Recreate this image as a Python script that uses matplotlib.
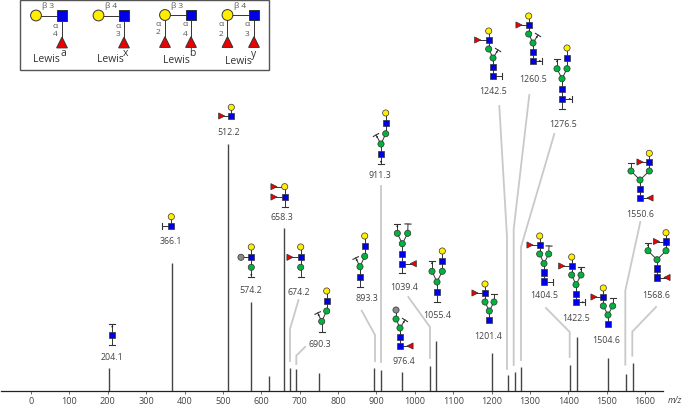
import matplotlib
matplotlib.use("Agg")
import matplotlib.pyplot as plt
from matplotlib.patches import Circle, Rectangle, Polygon

plt.rcParams['font.family'] = ['Open Sans', 'DejaVu Sans']

# ---- data ----
mz = [204.1, 366.1, 512.2, 574.2, 620.0, 658.3, 674.2, 690.3, 750.0, 893.3, 911.3,
      967.8, 1040.0, 1055.4, 1201.4, 1242.5, 1260.5, 1276.5, 1404.5, 1422.5, 1504.6,
      1550.6, 1568.6]
intensity = [9.3, 52.0, 100.0, 36.0, 6.1, 66.0, 9.3, 8.9, 7.3, 9.3, 8.5,
             7.7, 10.1, 20.2, 15.4, 6.5, 7.7, 9.7, 10.5, 21.9, 13.4, 6.9, 11.3]
x_ticks = list(range(0, 1601, 100))

ion_labels = ['204.1', '366.1', '512.2', '574.2', '658.3', '674.2', '690.3', '893.3',
              '911.3', '976.4', '1039.4', '1055.4', '1201.4', '1242.5', '1260.5',
              '1276.5', '1404.5', '1422.5', '1504.6', '1550.6', '1568.6']

# ---- layout (pixels, annotation layer) ----
label_xy = [(112, 358), (171, 242), (229, 133), (251, 291), (282, 218), (299, 293),
            (320, 344.5), (367, 299), (380, 176), (404, 362), (404, 288), (437, 316),
            (488, 337), (493, 92), (533, 79), (563, 124.5), (544, 295.5), (576, 319),
            (606, 341), (640.5, 214.5), (656.5, 296)]

leaders = [
    [(290, 362), (290, 330), (298.5, 301)],
    [(296.3, 365), (296.3, 356.7), (305, 348)],
    [(375, 362), (375, 336), (361.7, 311.7)],
    [(380.7, 363), (380.7, 187)],
    [(430, 359), (430, 328), (408.3, 298)],
    [(507, 370), (507, 238), (499.3, 107)],
    [(513.7, 366), (513.7, 230), (529.3, 96)],
    [(521, 361), (521, 248), (554.3, 135)],
    [(569.7, 358), (569.7, 333), (546, 309)],
    [(625.3, 365.7), (625.3, 291.7), (640.3, 223)],
    [(632.3, 356.7), (632.3, 332.7), (656, 308)],
]

# nodes: kind, x, y, parent index
# Y yellow circle, G green circle, S grey circle, B blue square,
# R red triangle pointing right, L red triangle pointing left, T cap, D dotted cap
glycans = [
    [('B', 112.3, 335.7, None), ('D', 112.3, 325.3, 0), ('T', 112.3, 346, 0)],
    [('Y', 171.3, 217.7, None), ('B', 171.3, 226.7, 0), ('T', 162.5, 226.7, 1)],
    [('Y', 231.3, 108.3, None), ('B', 231.3, 117, 0), ('R', 221.7, 117, 1)],
    [('Y', 251.3, 248, None), ('B', 251.3, 258.3, 0), ('S', 241, 258.3, 1),
     ('G', 251.3, 268.3, 1), ('D', 251.3, 278, 3)],
    [('Y', 284.7, 187.7, None), ('R', 274, 187.7, 0), ('B', 284.7, 198, 0),
     ('R', 274, 198, 2), ('T', 284.7, 208, 2)],
    [('Y', 300.7, 248, None), ('B', 300.7, 258.3, 0), ('R', 290, 258.3, 1),
     ('G', 300.7, 268.3, 1), ('T', 300.7, 278, 3)],
    [('Y', 326.7, 292, None), ('B', 326.7, 302, 0), ('G', 326.7, 312, 1),
     ('G', 321.7, 322.4, 2), ('D', 317.7, 314, 3), ('T', 321.7, 332.7, 3)],
    [('Y', 364.7, 237, None), ('B', 364.7, 247, 0), ('G', 364.7, 257.3, 1),
     ('G', 360, 267.7, 2), ('D', 355.7, 259, 3), ('B', 360, 278, 3), ('T', 360, 288, 5)],
    [('Y', 385.7, 114, None), ('B', 385.7, 124.3, 0), ('G', 385.7, 134.7, 1),
     ('G', 381, 145, 2), ('D', 376, 136, 3), ('B', 381, 155, 3), ('D', 381, 165, 5)],
    [('S', 396, 311, None), ('G', 396, 320, 0), ('G', 400, 329, 1), ('D', 405, 321, 2),
     ('B', 400, 338, 2), ('B', 400, 347, 4), ('L', 410, 347, 5)],
    [('D', 397.3, 225, 1), ('G', 397.3, 234.3, 4), ('T', 408, 225, 3), ('G', 407.7, 234.3, 4),
     ('G', 402.3, 244.7, None), ('B', 402.3, 254.7, 4), ('B', 402.3, 264.7, 5),
     ('L', 413.3, 264.7, 6), ('T', 402.3, 274, 6)],
    [('Y', 442.3, 252, None), ('B', 442.3, 262, 0), ('G', 442.3, 272.3, 1),
     ('G', 432, 272.3, 5), ('D', 432, 262, 3), ('G', 437, 283, 2), ('B', 437, 293, 5),
     ('T', 437, 302.5, 6)],
    [('Y', 485, 285, None), ('B', 485, 294, 0), ('R', 475, 294, 1), ('G', 485, 303, 1),
     ('G', 494, 303, 6), ('T', 494, 295, 4), ('G', 489.3, 312, 3), ('B', 489.3, 321, 6)],
    [('Y', 488.7, 32, None), ('B', 488.7, 41, 0), ('R', 477.7, 41, 1), ('G', 488.7, 50, 1),
     ('D', 498, 51, 5), ('G', 493, 59, 3), ('B', 493, 68, 5), ('B', 493, 77, 6), ('T', 502, 77, 7)],
    [('Y', 528.7, 17, None), ('B', 528.7, 26, 0), ('R', 519, 26, 1), ('G', 528.7, 35, 1),
     ('D', 538, 36, 5), ('G', 533, 44, 3), ('B', 533, 53, 5), ('B', 533, 62, 6), ('D', 542, 62, 7)],
    [('Y', 567, 49, None), ('B', 567, 59, 0), ('G', 567, 69.7, 1), ('D', 557, 60, 4),
     ('G', 557, 69.7, 5), ('G', 562, 79.7, 2), ('B', 562, 90, 5), ('B', 562, 100, 6),
     ('D', 572, 100, 7), ('T', 562, 110, 7)],
    [('Y', 539.7, 237, None), ('B', 539.7, 246, 0), ('R', 530, 246, 1), ('G', 539.7, 255, 1),
     ('T', 549, 247, 5), ('G', 548.7, 255, 6), ('G', 544, 264.5, 3), ('B', 544, 273.5, 6),
     ('B', 544, 282.5, 7), ('T', 553, 282.5, 8)],
    [('Y', 571.7, 258, None), ('B', 571.7, 267, 0), ('R', 561.7, 267, 1), ('G', 571.7, 276, 1),
     ('D', 581, 268, 5), ('G', 581, 276, 6), ('G', 576, 285.7, 3), ('B', 576, 294.7, 6),
     ('B', 576, 303.3, 7), ('D', 585, 303.3, 8)],
    [('Y', 603.3, 289, None), ('B', 603.3, 298, 0), ('R', 594, 298, 1), ('G', 603.3, 307, 1),
     ('T', 612.7, 299, 5), ('G', 612.7, 307, 6), ('G', 608, 316, 3), ('B', 608, 325, 6)],
    [('Y', 649.3, 154.3, None), ('B', 649.3, 163, 0), ('R', 640, 163, 1), ('G', 649.3, 172, 1),
     ('T', 631, 163.5, 5), ('G', 631, 172, 6), ('G', 640, 181, 3), ('B', 640, 190, 6),
     ('B', 640, 199, 7), ('L', 650, 199, 8)],
    [('Y', 666, 233.7, None), ('B', 666, 242.5, 0), ('R', 656.5, 242.5, 1), ('G', 666, 251.7, 1),
     ('D', 648, 244, 5), ('G', 648, 251.7, 6), ('G', 657, 260.7, 3), ('B', 657, 269.5, 6),
     ('B', 657, 278.5, 7), ('L', 667, 278.5, 8)],
]

lewis_nodes = [
    [('Y', 36, 16.5, None), ('B', 62, 16.5, 0), ('U', 62, 43.5, 1)],
    [('Y', 98.5, 16.5, None), ('B', 124, 16.5, 0), ('U', 124, 43.5, 1)],
    [('Y', 165, 16, None), ('B', 191, 16, 0), ('U', 165, 43, 0), ('U', 191, 43, 1)],
    [('Y', 227.5, 16, None), ('B', 254, 16, 0), ('U', 227.5, 43, 0), ('U', 254, 43, 1)],
]
lewis_text = [
    ('β 3', 48, 6.5), ('α', 55, 26), ('4', 55, 34.5),
    ('β 4', 111.5, 6.5), ('α', 118, 26), ('3', 118, 35),
    ('β 3', 177.5, 6.5), ('α', 158.5, 25), ('2', 158.5, 33), ('α', 185, 25), ('4', 185, 34),
    ('β 4', 240, 6.5), ('α', 221, 25), ('2', 221, 34), ('α', 247.5, 25), ('3', 247.5, 35),
]
lewis_names = [('Lewis', 46.5, 59.5), ('Lewis', 110, 60), ('Lewis', 176, 60.5), ('Lewis', 238, 61)]
lewis_sup = [('a', 63, 54), ('x', 125, 54), ('b', 192.5, 53.5), ('y', 254, 55)]

# ---- figure ----
fig = plt.figure(figsize=(6.85, 4.06), dpi=100)
W, H = 685, 406
ax = fig.add_axes([1 / W, (H - 392) / H, 662 / W, 392 / H])
ax.set_xlim(-78.2, 1646.7)
ax.set_ylim(0, 392 / 2.47)
ax.vlines(mz, 0, intensity, color='#454545', lw=1.0)
for s in ['top', 'left', 'right']:
    ax.spines[s].set_visible(False)
ax.spines['bottom'].set_linewidth(0.9)
ax.spines['bottom'].set_color('#222222')
ax.set_yticks([])
ax.set_xticks(x_ticks)
ax.tick_params(axis='x', length=2, width=0.6, color='#555555', pad=1.5, labelsize=6.6, labelcolor='#444444')
ax.patch.set_alpha(0)

ov = fig.add_axes([0, 0, 1, 1])
ov.set_xlim(0, W)
ov.set_ylim(H, 0)
ov.axis('off')
ov.patch.set_alpha(0)

for pts in leaders:
    ov.plot([p[0] for p in pts], [p[1] for p in pts], color='#c9c9c9', lw=1.3, solid_joinstyle='miter')

for txt, (x, y) in zip(ion_labels, label_xy):
    ov.text(x, y, txt, ha='center', va='center', fontsize=6.4, color='#444444')

ov.text(675, 401, 'm/z', ha='center', va='center', fontsize=6.2, style='italic', color='#444444')

EDGE = '#333333'


def draw_glycan(nodes, s=3.1, z=5, lw=0.5):
    for kind, x, y, parent in nodes:
        if parent is None:
            continue
        px, py = nodes[parent][1], nodes[parent][2]
        ov.plot([x, px], [y, py], color='#333333', lw=0.7, zorder=z - 1)
    for kind, x, y, parent in nodes:
        if kind in 'YGS':
            col = {'Y': '#ffee00', 'G': '#00b33c', 'S': '#888888'}[kind]
            ov.add_patch(Circle((x, y), s, fc=col, ec=EDGE, lw=lw, zorder=z))
        elif kind == 'B':
            ov.add_patch(Rectangle((x - s, y - s), 2 * s, 2 * s, fc='#0000e6', ec=EDGE, lw=lw, zorder=z))
        elif kind == 'R':
            ov.add_patch(Polygon([(x - s, y - s), (x - s, y + s), (x + s, y)], fc='#ee0000', ec=EDGE, lw=lw, zorder=z))
        elif kind == 'L':
            ov.add_patch(Polygon([(x + s, y - s), (x + s, y + s), (x - s, y)], fc='#ee0000', ec=EDGE, lw=lw, zorder=z))
        elif kind == 'U':
            ov.add_patch(Polygon([(x - s, y + s), (x + s, y + s), (x, y - s)], fc='#ee0000', ec=EDGE, lw=lw, zorder=z))
        elif kind in 'TD':
            px, py = nodes[parent][1], nodes[parent][2]
            dx, dy = x - px, y - py
            n = (dx * dx + dy * dy) ** 0.5
            ux, uy = dx / n, dy / n
            ov.plot([x - uy * 3, x + uy * 3], [y + ux * 3, y - ux * 3], color='#333333', lw=0.8, zorder=z)
            if kind == 'D':
                ov.add_patch(Circle((x - ux * 2.3, y - uy * 2.3), 0.9, fc='#222222', ec='none', zorder=z))


for g in glycans:
    draw_glycan(g)

# Lewis legend box
ov.add_patch(Rectangle((20.5, 1), 248.5, 70, fc='white', ec='#555555', lw=1.0, zorder=3))
for g in lewis_nodes:
    draw_glycan(g, s=5.4, z=5, lw=0.7)
for t, x, y in lewis_text:
    ov.text(x, y, t, ha='center', va='center', fontsize=6, color='#555555', zorder=6)
for t, x, y in lewis_names:
    ov.text(x, y, t, ha='center', va='center', fontsize=7.5, color='#333333', zorder=6)
for t, x, y in lewis_sup:
    ov.text(x, y, t, ha='center', va='center', fontsize=7.5, color='#333333', zorder=6)

fig.savefig('out.png', dpi=100)
